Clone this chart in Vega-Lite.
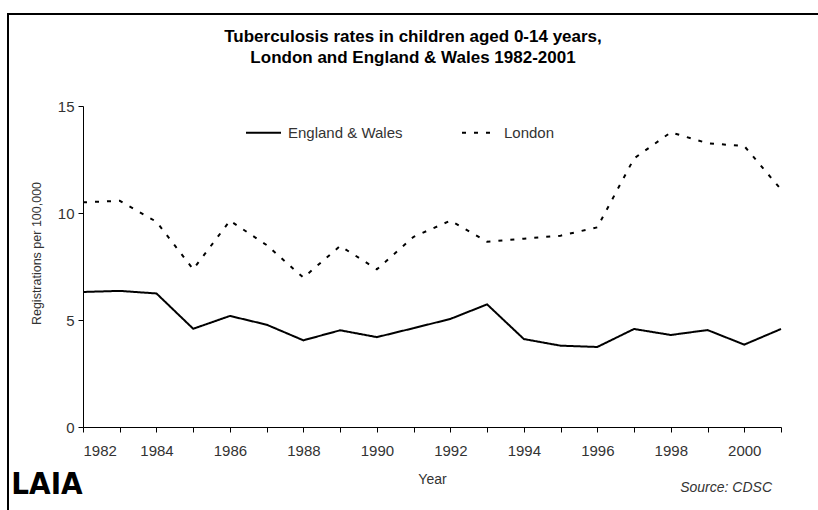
{
  "$schema": "https://vega.github.io/schema/vega-lite/v6.json",
  "autosize": {"type": "none"},
  "padding": {"left": 83, "top": 106, "right": 37, "bottom": 83},
  "width": 698,
  "height": 321,
  "background": "white",
  "config": {
    "font": "Liberation Sans",
    "view": {"stroke": null},
    "axis": {
      "grid": false,
      "domainColor": "black",
      "domainWidth": 1,
      "tickColor": "black",
      "tickSize": 5,
      "labelFont": "Liberation Sans",
      "labelFontSize": 15,
      "labelColor": "#333",
      "titleFont": "Liberation Sans",
      "titleFontSize": 13,
      "titleFontWeight": "normal",
      "titleColor": "#333"
    }
  },
  "title": {
    "text": ["Tuberculosis rates in children aged 0-14 years,", "London and England & Wales 1982-2001"],
    "anchor": "middle",
    "frame": "group",
    "dx": -19,
    "offset": -54,
    "font": "Liberation Sans",
    "fontSize": 17,
    "fontWeight": "bold",
    "color": "black",
    "lineHeight": 21
  },
  "data": {
    "values": [
      {"year": 1982, "region": "England & Wales", "rate": 6.31},
      {"year": 1983, "region": "England & Wales", "rate": 6.36},
      {"year": 1984, "region": "England & Wales", "rate": 6.24},
      {"year": 1985, "region": "England & Wales", "rate": 4.59},
      {"year": 1986, "region": "England & Wales", "rate": 5.19},
      {"year": 1987, "region": "England & Wales", "rate": 4.78},
      {"year": 1988, "region": "England & Wales", "rate": 4.05},
      {"year": 1989, "region": "England & Wales", "rate": 4.52},
      {"year": 1990, "region": "England & Wales", "rate": 4.2},
      {"year": 1991, "region": "England & Wales", "rate": 4.62},
      {"year": 1992, "region": "England & Wales", "rate": 5.05},
      {"year": 1993, "region": "England & Wales", "rate": 5.73},
      {"year": 1994, "region": "England & Wales", "rate": 4.11},
      {"year": 1995, "region": "England & Wales", "rate": 3.8},
      {"year": 1996, "region": "England & Wales", "rate": 3.74},
      {"year": 1997, "region": "England & Wales", "rate": 4.58},
      {"year": 1998, "region": "England & Wales", "rate": 4.3},
      {"year": 1999, "region": "England & Wales", "rate": 4.53},
      {"year": 2000, "region": "England & Wales", "rate": 3.85},
      {"year": 2001, "region": "England & Wales", "rate": 4.58},
      {"year": 1982, "region": "London", "rate": 10.5},
      {"year": 1983, "region": "London", "rate": 10.57},
      {"year": 1984, "region": "London", "rate": 9.59},
      {"year": 1985, "region": "London", "rate": 7.37},
      {"year": 1986, "region": "London", "rate": 9.64},
      {"year": 1987, "region": "London", "rate": 8.5},
      {"year": 1988, "region": "London", "rate": 6.98},
      {"year": 1989, "region": "London", "rate": 8.46},
      {"year": 1990, "region": "London", "rate": 7.37},
      {"year": 1991, "region": "London", "rate": 8.89},
      {"year": 1992, "region": "London", "rate": 9.64},
      {"year": 1993, "region": "London", "rate": 8.66},
      {"year": 1994, "region": "London", "rate": 8.8},
      {"year": 1995, "region": "London", "rate": 8.94},
      {"year": 1996, "region": "London", "rate": 9.33},
      {"year": 1997, "region": "London", "rate": 12.55},
      {"year": 1998, "region": "London", "rate": 13.77},
      {"year": 1999, "region": "London", "rate": 13.26},
      {"year": 2000, "region": "London", "rate": 13.13},
      {"year": 2001, "region": "London", "rate": 11.1}
    ]
  },
  "layer": [
    {
      "mark": {"type": "line", "strokeWidth": 2},
      "encoding": {
        "x": {
          "field": "year",
          "type": "quantitative",
          "scale": {"domain": [1982, 2001], "nice": false, "zero": false},
          "axis": {
            "title": "Year",
            "titleFontSize": 14,
            "values": [1982, 1983, 1984, 1985, 1986, 1987, 1988, 1989, 1990, 1991, 1992, 1993, 1994, 1995, 1996, 1997, 1998, 1999, 2000, 2001],
            "labelExpr": "datum.value % 2 == 0 && datum.value < 2001 ? datum.value : ''",
            "labelPadding": 11,
            "titlePadding": 14
          }
        },
        "y": {
          "field": "rate",
          "type": "quantitative",
          "scale": {"domain": [0, 15], "nice": false},
          "axis": {
            "title": "Registrations per 100,000",
            "titleFontSize": 12.5,
            "titleY": 147,
            "values": [0, 5, 10, 15],
            "labelPadding": 4,
            "titlePadding": 14
          }
        },
        "color": {
          "field": "region",
          "type": "nominal",
          "scale": {"range": ["black", "black"]},
          "legend": {
            "title": null,
            "orient": "none",
            "direction": "horizontal",
            "legendX": 162,
            "legendY": 8,
            "symbolType": "stroke",
            "symbolSize": 1225,
            "symbolStrokeWidth": 2,
            "labelFont": "Liberation Sans",
            "labelFontSize": 15,
            "labelColor": "#333",
            "labelOffset": 6,
            "columnPadding": 55
          }
        },
        "strokeDash": {
          "field": "region",
          "type": "nominal",
          "scale": {"range": [[1, 0], [4, 8]]}
        }
      }
    },
    {
      "data": {"values": [{"note": "Source: CDSC"}]},
      "mark": {"type": "text", "align": "right", "baseline": "middle", "fontStyle": "italic", "fontSize": 14, "color": "#333", "font": "Liberation Sans"},
      "encoding": {
        "text": {"field": "note"},
        "x": {"value": 689},
        "y": {"value": 382}
      }
    },
    {
      "data": {"values": [{"logo": "LAIA"}]},
      "mark": {"type": "text", "align": "center", "baseline": "middle", "fontWeight": "bold", "fontSize": 31, "color": "black", "font": "DejaVu Sans Condensed"},
      "encoding": {
        "text": {"field": "logo"},
        "x": {"value": -36},
        "y": {"value": 379}
      }
    },
    {
      "data": {"values": [{"frame": "border"}]},
      "mark": {"type": "rect", "fill": null, "stroke": "black", "strokeWidth": 2},
      "encoding": {
        "x": {"value": -75},
        "y": {"value": -92},
        "x2": {"value": 760},
        "y2": {"value": 420}
      }
    }
  ]
}
